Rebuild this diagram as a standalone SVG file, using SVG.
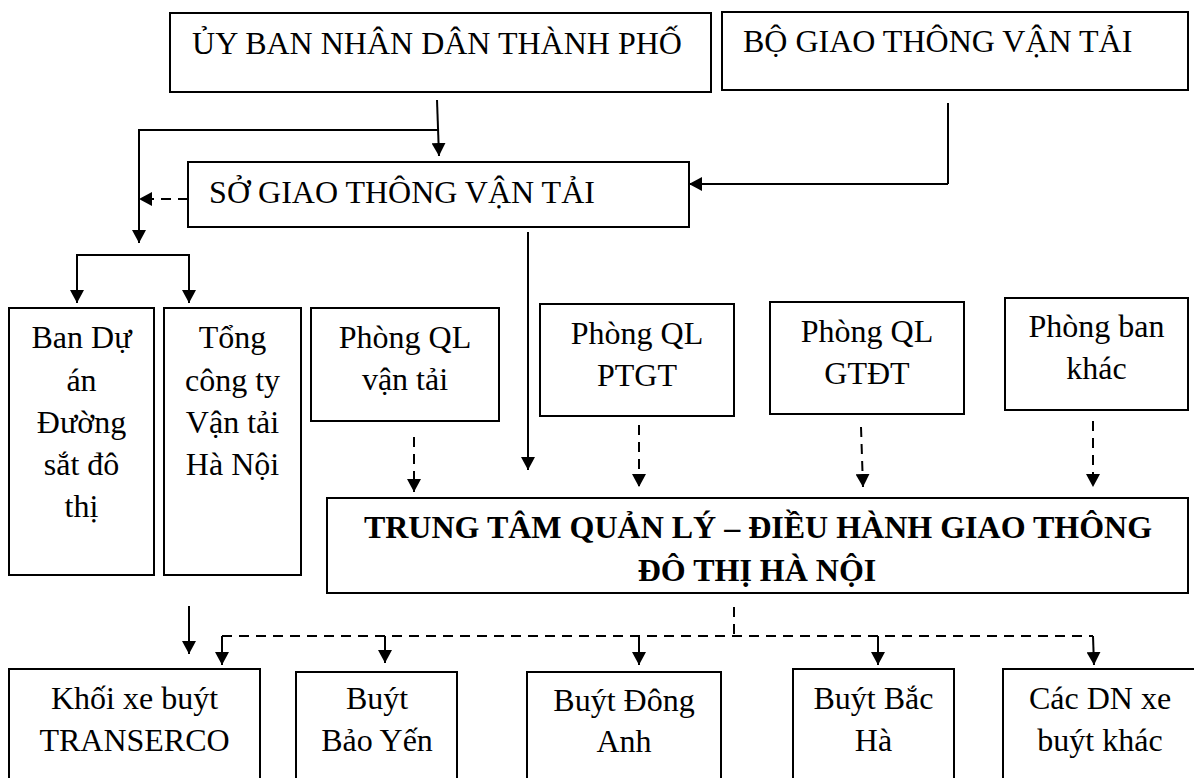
<svg xmlns="http://www.w3.org/2000/svg" width="1194" height="778" viewBox="0 0 1194 778">
<defs>
<marker id="ah" markerUnits="userSpaceOnUse" markerWidth="14" markerHeight="14" refX="13" refY="7" orient="auto">
<path d="M0,0 L13,7 L0,14 z" fill="#000"/>
</marker>
<style>
rect.b{fill:#fff;stroke:#000;stroke-width:2}
text{font-family:"Liberation Serif","Times New Roman",serif;font-size:32px;fill:#000;text-anchor:middle}
text.bold{font-weight:bold}
.c{fill:none;stroke:#000;stroke-width:2}
.d{fill:none;stroke:#000;stroke-width:2;stroke-dasharray:10 7}
.a{marker-end:url(#ah)}
</style>
</defs>
<rect width="1194" height="778" fill="#fff"/>
<g id="connectors">
<path class="c a" d="M437,100 L439,156" stroke-width="1.6"/>
<path class="c a" d="M439,130 H139 V243"/>
<path class="d a" d="M188,199 H139"/>
<path class="c a" d="M133,255 H77 V303"/>
<path class="c a" d="M133,255 H189 V303"/>
<path class="c" d="M948,103 V184" stroke-width="1.4"/>
<path class="c a" d="M948,184 H689"/>
<path class="c a" d="M528,232 V470"/>
<path class="d a" d="M414,437 V492"/>
<path class="d a" d="M639,425 V487"/>
<path class="d a" d="M861,427 L863,487"/>
<path class="d a" d="M1093,421 V487"/>
<path class="c a" d="M189,606 V654"/>
<path class="d" d="M734,607 V636"/>
<path class="d" d="M222,636 H1093"/>
<path class="c a" d="M222,636 V665"/>
<path class="c a" d="M385,636 V663"/>
<path class="c a" d="M639,636 V665"/>
<path class="c a" d="M878,636 V665"/>
<path class="c a" d="M1093,636 L1094,665"/>
</g>
<g id="ubnd">
<rect class="b" x="170" y="13" width="541" height="79"/>
<text x="437" y="54">ỦY BAN NHÂN DÂN THÀNH PHỐ</text>
</g>
<g id="bo-gtvt">
<rect class="b" x="722" y="12" width="466" height="78"/>
<text x="743" y="52" style="text-anchor:start">BỘ GIAO THÔNG VẬN TẢI</text>
</g>
<g id="so-gtvt">
<rect class="b" x="188" y="162" width="501" height="65"/>
<text x="402" y="203">SỞ GIAO THÔNG VẬN TẢI</text>
</g>
<g id="ban-du-an">
<rect class="b" x="9" y="308" width="145" height="267"/>
<text x="81.5" y="348">Ban Dự</text>
<text x="81.5" y="391">án</text>
<text x="81.5" y="433">Đường</text>
<text x="81.5" y="475">sắt đô</text>
<text x="81.5" y="517">thị</text>
</g>
<g id="tong-cong-ty">
<rect class="b" x="164" y="308" width="137" height="267"/>
<text x="232.5" y="348">Tổng</text>
<text x="232.5" y="391">công ty</text>
<text x="232.5" y="433">Vận tải</text>
<text x="232.5" y="475">Hà Nội</text>
</g>
<g id="phong-ql-van-tai">
<rect class="b" x="311" y="308" width="188" height="113"/>
<text x="405" y="348">Phòng QL</text>
<text x="405" y="390">vận tải</text>
</g>
<g id="phong-ql-ptgt">
<rect class="b" x="540" y="304" width="194" height="112"/>
<text x="637" y="344">Phòng QL</text>
<text x="637" y="386">PTGT</text>
</g>
<g id="phong-ql-gtdt">
<rect class="b" x="770" y="302" width="194" height="112"/>
<text x="867" y="342">Phòng QL</text>
<text x="867" y="384">GTĐT</text>
</g>
<g id="phong-ban-khac">
<rect class="b" x="1005" y="298" width="183" height="112"/>
<text x="1096.5" y="337">Phòng ban</text>
<text x="1096.5" y="379">khác</text>
</g>
<g id="trung-tam">
<rect class="b" x="327" y="498" width="861" height="95"/>
<text class="bold" x="758" y="538">TRUNG TÂM QUẢN LÝ – ĐIỀU HÀNH GIAO THÔNG</text>
<text class="bold" x="757" y="581">ĐÔ THỊ HÀ NỘI</text>
</g>
<g id="transerco">
<rect class="b" x="9" y="669" width="251" height="130"/>
<text x="134.5" y="709">Khối xe buýt</text>
<text x="134.5" y="751">TRANSERCO</text>
</g>
<g id="bao-yen">
<rect class="b" x="296" y="672" width="161" height="130"/>
<text x="377" y="709">Buýt</text>
<text x="377" y="751">Bảo Yến</text>
</g>
<g id="dong-anh">
<rect class="b" x="527" y="672" width="194" height="130"/>
<text x="624" y="711">Buýt Đông</text>
<text x="624" y="752">Anh</text>
</g>
<g id="bac-ha">
<rect class="b" x="793" y="669" width="161" height="130"/>
<text x="873.5" y="709">Buýt Bắc</text>
<text x="873.5" y="751">Hà</text>
</g>
<g id="cac-dn">
<rect class="b" x="1003" y="669" width="195" height="130"/>
<text x="1100" y="709">Các DN xe</text>
<text x="1100" y="751">buýt khác</text>
</g>
</svg>
